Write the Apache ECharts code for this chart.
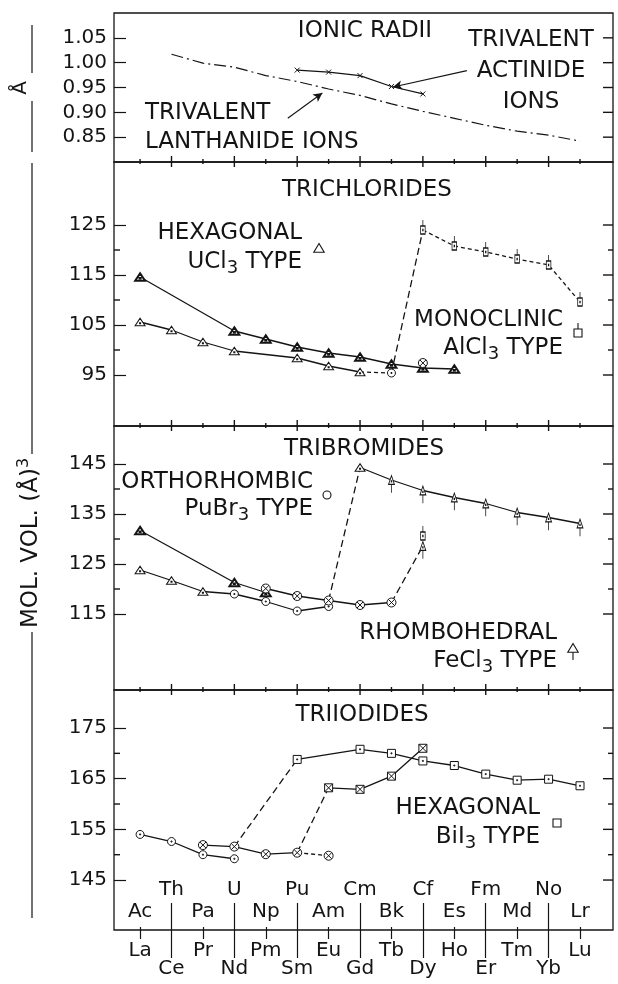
<!DOCTYPE html>
<html>
<head>
<meta charset="utf-8">
<title>Molar volumes of lanthanide and actinide trihalides</title>
<script src="https://cdn.jsdelivr.net/npm/echarts@6.0.0/dist/echarts.min.js"></script>
<style>
  html, body { margin: 0; padding: 0; background: #fff; }
  #chart { width: 618px; height: 984px; }
</style>
</head>
<body>
<div id="chart"></div>
<script>
const _ = null;

// Element rows: index 0..14 is the position along the 4f / 5f series
const lanthanides = ['La', 'Ce', 'Pr', 'Nd', 'Pm', 'Sm', 'Eu', 'Gd', 'Tb', 'Dy', 'Ho', 'Er', 'Tm', 'Yb', 'Lu'];
const actinides   = ['Ac', 'Th', 'Pa', 'U', 'Np', 'Pu', 'Am', 'Cm', 'Bk', 'Cf', 'Es', 'Fm', 'Md', 'No', 'Lr'];

// Ionic radii of the trivalent ions (Å)
const radiusLn = [_, 1.017, 0.999, 0.991, 0.974, 0.962, 0.947, 0.934, 0.917, 0.902, 0.888, 0.874, 0.862, 0.854, 0.842];
const radiusAn = [_, _, _, _, _, 0.985, 0.981, 0.974, 0.952, 0.937, _, _, _, _, _];

// Trichlorides, molar volume (Å^3)
const clHexLow  = [105.6, 104.0, 101.6, 99.8, _, 98.4, 96.8, 95.6, _, _, _, _, _, _, _];
const clHexHigh = [114.6, _, _, 103.8, 102.2, 100.6, 99.4, 98.6, 97.2, 96.4, 96.2, _, _, _, _];
const clOrtho   = [_, _, _, _, _, _, _, _, 95.4, _, _, _, _, _, _];
const clCrossed = [_, _, _, _, _, _, _, _, _, 97.4, _, _, _, _, _];
const clMono    = [_, _, _, _, _, _, _, _, _, 124.0, 120.8, 119.6, 118.2, 117.0, 109.6];

// Tribromides, molar volume (Å^3)
const brRhombLow   = [123.8, 121.7, 119.5, _, _, _, _, _, _, _, _, _, _, _, _];
const brOrtho      = [_, _, _, 119.0, 117.5, 115.6, 116.5, _, _, _, _, _, _, _, _];
const brRhombHigh  = [131.7, _, _, 121.3, 119.3, _, _, _, _, _, _, _, _, _, _];
const brCrossed    = [_, _, _, _, 120.1, 118.6, 117.7, 116.8, 117.3, _, _, _, _, _, _];
const brRhombHeavy = [_, _, _, _, _, _, _, 144.3, 141.8, 139.7, 138.3, 137.1, 135.3, 134.3, 133.1];
const brRhombDy    = [_, _, _, _, _, _, _, _, _, 128.6, _, _, _, _, _];
const brMonoDy     = [_, _, _, _, _, _, _, _, _, 130.6, _, _, _, _, _];

// Triiodides, molar volume (Å^3)
const iOrtho     = [154.0, 152.6, 150.0, 149.2, _, _, _, _, _, _, _, _, _, _, _];
const iCrossed   = [_, _, 151.9, 151.6, 150.1, 150.4, _, _, _, _, _, _, _, _, _];
const iCrossedEu = [_, _, _, _, _, _, 149.8, _, _, _, _, _, _, _, _];
const iHex       = [_, _, _, _, _, 168.8, _, 170.8, 170.0, 168.5, 167.6, 165.9, 164.7, 164.9, 163.6];
const iBoxed     = [_, _, _, _, _, _, 163.2, 162.9, 165.5, 171.0, _, _, _, _, _];

// Tick labels (major) and unlabeled minor ticks of each panel
const radiusTicks = [0.85, 0.90, 0.95, 1.00, 1.05];
const clTicks = [95, 105, 115, 125], clMinor = [100, 110, 120];
const brTicks = [115, 125, 135, 145], brMinor = [120, 130, 140];
const iTicks  = [145, 155, 165, 175], iMinor  = [150, 160, 170];

// Arrow annotations of the ionic-radii panel, in data units [position, Å]
const actinideArrow   = [[10.4, 0.984], [8.05, 0.951]];
const lanthanideArrow = [[4.7, 0.888], [5.8, 0.939]];

// ---------------------------------------------------------------------------
const INK = '#141414';
const FONT = 'DejaVu Sans';
const PLOT_LEFT = 114, PLOT_RIGHT = 613;
const X_MIN = -0.83, X_MAX = 15.05;
const evenIdx = [0, 2, 4, 6, 8, 10, 12, 14];
const oddIdx = [1, 3, 5, 7, 9, 11, 13];

const panels = [
  { top: 13,  height: 149, min: 0.80,   max: 1.10,  ticks: radiusTicks, minor: [],      fmt: v => v.toFixed(2) },
  { top: 162, height: 264, min: 84.8,   max: 137.6, ticks: clTicks,     minor: clMinor, fmt: v => String(Math.round(v)) },
  { top: 426, height: 264, min: 99.8,   max: 152.6, ticks: brTicks,     minor: brMinor, fmt: v => String(Math.round(v)) },
  { top: 690, height: 240, min: 135.14, max: 182.5, ticks: iTicks,      minor: iMinor,  fmt: v => String(Math.round(v)) }
];

// Marker shapes
const CIRCLE = 'M4,0C6.2,0 8,1.8 8,4C8,6.2 6.2,8 4,8C1.8,8 0,6.2 0,4C0,1.8 1.8,0 4,0Z';
const TRI      = 'path://M5,0L10,8.66L0,8.66Z M4.5,5.3h1v1h-1Z';
const TRI_STEM = 'path://M5,0L10,8.66L0,8.66Z M5,8.66V17 M4.5,5.3h1v1h-1Z';
const SQ       = 'path://M0,0H8V8H0Z M3.5,3.5h1v1h-1Z';
const SQ_STEM  = 'path://M0,6H8V14H0Z M4,0V6 M3.5,9.5h1v1h-1Z';
const SQX      = 'path://M0,0H8V8H0Z M0,0L8,8M8,0L0,8';
const CIRC     = 'path://' + CIRCLE + ' M3.5,3.5h1v1h-1Z';
const CIRCX    = 'path://' + CIRCLE + ' M1.2,1.2L6.8,6.8M6.8,1.2L1.2,6.8';
const XMARK    = 'path://M0,0L6,6M6,0L0,6';

const MARK = {
  tri:     { symbol: TRI,      size: [10, 8.66], offset: [0, 0] },
  triStem: { symbol: TRI_STEM, size: [10, 17],   offset: [0, 4.17] },
  sq:      { symbol: SQ,       size: [8, 8],     offset: [0, 0] },
  sqStem:  { symbol: SQ_STEM,  size: [8, 14],    offset: [0, -3] },
  sqx:     { symbol: SQX,      size: [8, 8],     offset: [0, 0] },
  circ:    { symbol: CIRC,     size: [8, 8],     offset: [0, 0] },
  circx:   { symbol: CIRCX,    size: [9, 9],     offset: [0, 0] },
  x:       { symbol: XMARK,    size: [5, 5],     offset: [0, 0] }
};

function toPoints(values) {
  const pts = [];
  values.forEach((v, i) => { if (v != null) pts.push([i, v]); });
  return pts;
}

function lineSeries(grid, values, o) {
  o = o || {};
  const m = o.mark ? MARK[o.mark] : null;
  return {
    type: 'line',
    xAxisIndex: grid, yAxisIndex: grid,
    data: toPoints(values),
    symbol: m ? m.symbol : 'none',
    symbolSize: m ? m.size : 0,
    symbolOffset: m ? m.offset : [0, 0],
    symbolKeepAspect: true,
    showSymbol: !!m, showAllSymbol: true,
    lineStyle: { color: INK, width: o.width || 1.3, type: o.dash || 'solid' },
    itemStyle: { color: '#fff', borderColor: INK, borderWidth: o.border || 1 },
    z: o.z || 3,
    silent: true, animation: false,
    emphasis: { disabled: true }
  };
}

// Connector between the last point of one run and the first point of another
function bridge(grid, a, i, b, j, dash) {
  return {
    type: 'line', xAxisIndex: grid, yAxisIndex: grid,
    data: [[i, a[i]], [j, b[j]]],
    symbol: 'none', showSymbol: false,
    lineStyle: { color: INK, width: 1.3, type: dash || 'solid' },
    z: 2, silent: true, animation: false, emphasis: { disabled: true }
  };
}

const LONG_DASH = [7, 4];
const SHORT_DASH = [4, 3];

const series = [];

// Ionic radii
const lnRadius = lineSeries(0, radiusLn, { dash: [12, 4, 2, 4], width: 1.2 });
lnRadius.markLine = {
  silent: true, animation: false, symbol: ['none', 'arrow'], symbolSize: [7, 9],
  label: { show: false },
  lineStyle: { color: INK, width: 1.1, type: 'solid', curveness: -0.2 },
  data: [[{ coord: lanthanideArrow[0] }, { coord: lanthanideArrow[1] }]]
};
const anRadius = lineSeries(0, radiusAn, { mark: 'x', width: 1.2 });
anRadius.markLine = {
  silent: true, animation: false, symbol: ['none', 'arrow'], symbolSize: [7, 9],
  label: { show: false },
  lineStyle: { color: INK, width: 1.1, type: 'solid', curveness: -0.15 },
  data: [[{ coord: actinideArrow[0] }, { coord: actinideArrow[1] }]]
};
series.push(lnRadius, anRadius);

// Trichlorides
series.push(
  lineSeries(1, clHexLow, { mark: 'tri' }),
  lineSeries(1, clHexHigh, { mark: 'tri', border: 1.9 }),
  bridge(1, clHexLow, 7, clOrtho, 8, SHORT_DASH),
  bridge(1, clOrtho, 8, clMono, 9, LONG_DASH),
  lineSeries(1, clOrtho, { mark: 'circ' }),
  lineSeries(1, clCrossed, { mark: 'circx', z: 4 }),
  lineSeries(1, clMono, { mark: 'sqStem', dash: SHORT_DASH })
);

// Tribromides
const heavy = lineSeries(2, brRhombHeavy, { mark: 'triStem' });
heavy.data[0] = { value: heavy.data[0], symbol: TRI, symbolSize: [10, 8.66], symbolOffset: [0, 0] };
series.push(
  lineSeries(2, brRhombLow, { mark: 'tri' }),
  bridge(2, brRhombLow, 2, brOrtho, 3),
  lineSeries(2, brOrtho, { mark: 'circ' }),
  lineSeries(2, brRhombHigh, { mark: 'tri', border: 1.9 }),
  lineSeries(2, brCrossed, { mark: 'circx', z: 4 }),
  bridge(2, brCrossed, 6, brRhombHeavy, 7, LONG_DASH),
  bridge(2, brCrossed, 8, brRhombDy, 9, LONG_DASH),
  heavy,
  lineSeries(2, brRhombDy, { mark: 'triStem' }),
  lineSeries(2, brMonoDy, { mark: 'sqStem' })
);

// Triiodides
series.push(
  lineSeries(3, iOrtho, { mark: 'circ' }),
  lineSeries(3, iCrossed, { mark: 'circx', z: 4 }),
  bridge(3, iCrossed, 3, iHex, 5, LONG_DASH),
  bridge(3, iCrossed, 5, iBoxed, 6, LONG_DASH),
  bridge(3, iCrossed, 5, iCrossedEu, 6, SHORT_DASH),
  lineSeries(3, iCrossedEu, { mark: 'circx' }),
  lineSeries(3, iHex, { mark: 'sq' }),
  lineSeries(3, iBoxed, { mark: 'sqx', z: 4 })
);

// ---------------------------------------------------------------------------
// Grids and axes
const grids = panels.map(p => ({
  left: PLOT_LEFT, width: PLOT_RIGHT - PLOT_LEFT, top: p.top, height: p.height,
  outerBoundsMode: 'none', containLabel: false,
  show: true, borderColor: INK, borderWidth: 1.3, backgroundColor: 'rgba(0,0,0,0)'
}));

const TICK_LINE = { color: INK, width: 1.2 };
const LABEL_FONT = { fontFamily: FONT, fontSize: 20, color: INK };

function baseX(g, position) {
  return {
    type: 'value', gridIndex: g, position: position, min: X_MIN, max: X_MAX,
    axisLine: { show: false, onZero: false }, splitLine: { show: false },
    axisTick: { show: false }, axisLabel: { show: false }
  };
}
// Element-name axis: its labels and the tick marks that separate them
function nameAxis(values, length, inside, labels, margin) {
  const ax = baseX(3, 'bottom');
  ax.axisTick = { show: true, customValues: values, length: length, inside: inside, lineStyle: TICK_LINE };
  ax.axisLabel = Object.assign({
    show: true, customValues: values, inside: inside, margin: margin,
    formatter: v => labels[Math.round(v)]
  }, LABEL_FONT);
  return ax;
}

const xAxes = panels.map((p, g) => baseX(g, 'bottom'));
// Lanthanides below the frame, actinides above it
xAxes.push(nameAxis(evenIdx, 9, false, lanthanides, 11));
xAxes.push(nameAxis(oddIdx, 28, false, lanthanides, 29));
xAxes.push(nameAxis(evenIdx, 3, true, actinides, 8));
xAxes.push(nameAxis(oddIdx, 27, true, actinides, 30));

const yAxes = panels.map((p, g) => ({
  type: 'value', gridIndex: g, position: 'left', min: p.min, max: p.max,
  axisLine: { show: false, onZero: false }, splitLine: { show: false },
  axisTick: { show: true, inside: true, length: 12, customValues: p.ticks, lineStyle: TICK_LINE },
  axisLabel: Object.assign({ show: true, customValues: p.ticks, margin: 7, formatter: p.fmt }, LABEL_FONT)
}));

// ---------------------------------------------------------------------------
// Text: panel titles, annotations, structure-type keys, axis titles
const RICH = {
  n: { fontFamily: FONT, fontSize: 23, lineHeight: 30, fill: INK },
  s: { fontFamily: FONT, fontSize: 18, lineHeight: 18, verticalAlign: 'bottom', fill: INK },
  p: { fontFamily: FONT, fontSize: 16, lineHeight: 16, verticalAlign: 'top', fill: INK }
};
function text(x, y, str, align, size) {
  return {
    type: 'text', x: x, y: y, z: 10, silent: true,
    style: { text: str, fontFamily: FONT, fontSize: size || 23, fill: INK,
             align: align || 'center', verticalAlign: 'middle', rich: RICH }
  };
}
const STROKE = { fill: '#fff', stroke: INK, lineWidth: 1.1 };
function key(kind, cx, cy) {
  const els = [];
  if (kind === 'tri' || kind === 'triStem') {
    els.push({ type: 'polygon', z: 10, silent: true,
      shape: { points: [[cx, cy - 4.5], [cx + 5.2, cy + 4.3], [cx - 5.2, cy + 4.3]] }, style: STROKE });
    if (kind === 'triStem') els.push({ type: 'line', z: 10, silent: true,
      shape: { x1: cx, y1: cy + 4.3, x2: cx, y2: cy + 12 }, style: STROKE });
  } else if (kind === 'sq' || kind === 'sqStem') {
    els.push({ type: 'rect', z: 10, silent: true,
      shape: { x: cx - 4, y: cy - 4, width: 8, height: 8 }, style: STROKE });
    if (kind === 'sqStem') els.push({ type: 'line', z: 10, silent: true,
      shape: { x1: cx, y1: cy - 4, x2: cx, y2: cy - 10 }, style: STROKE });
  } else {
    els.push({ type: 'circle', z: 10, silent: true, shape: { cx: cx, cy: cy, r: 4 }, style: STROKE });
  }
  return els;
}

const structureKeys = [
  { lines: ['HEXAGONAL', '{n|UCl}{s|3}{n| TYPE}'],    right: 302, y: [233, 262], kind: 'tri',     kx: 319, ky: 248 },
  { lines: ['MONOCLINIC', '{n|AlCl}{s|3}{n| TYPE}'],  right: 563, y: [320, 348], kind: 'sqStem',  kx: 578, ky: 333 },
  { lines: ['ORTHORHOMBIC', '{n|PuBr}{s|3}{n| TYPE}'], right: 313, y: [482, 509], kind: 'circ',   kx: 327, ky: 495 },
  { lines: ['RHOMBOHEDRAL', '{n|FeCl}{s|3}{n| TYPE}'], right: 557, y: [633, 661], kind: 'triStem', kx: 573, ky: 648 },
  { lines: ['HEXAGONAL', '{n|BiI}{s|3}{n| TYPE}'],    right: 540, y: [808, 837], kind: 'sq',      kx: 557, ky: 823 }
];

const graphics = [
  text(365, 31, 'IONIC RADII'),
  text(367, 190, 'TRICHLORIDES'),
  text(364, 449, 'TRIBROMIDES'),
  text(362, 715, 'TRIIODIDES'),
  text(531, 40, 'TRIVALENT'),
  text(531, 71, 'ACTINIDE'),
  text(531, 102, 'IONS'),
  text(145, 113, 'TRIVALENT', 'left'),
  text(145, 142, 'LANTHANIDE IONS', 'left')
];
structureKeys.forEach(k => {
  graphics.push(text(k.right, k.y[0], k.lines[0], 'right'));
  graphics.push(text(k.right, k.y[1], k.lines[1], 'right'));
  key(k.kind, k.kx, k.ky).forEach(e => graphics.push(e));
});

function rule(x1, y1, x2, y2) {
  return { type: 'line', silent: true, z: 10, shape: { x1: x1, y1: y1, x2: x2, y2: y2 },
           style: { stroke: INK, lineWidth: 1.2 } };
}
// Short frame tick as a filled bar (w x h, centred on x for vertical, on y for horizontal)
function bar(x, y, w, h) {
  return { type: 'rect', silent: true, z: 20, shape: { x: x, y: y, width: w, height: h },
           style: { fill: INK, stroke: null, lineWidth: 0 } };
}

// Rotated axis titles with their rule lines
const ctx = document.createElement('canvas').getContext('2d');
ctx.font = '23px "' + FONT + '"';
let titleLen = ctx.measureText('MOL. VOL. (Å)').width;
ctx.font = '16px "' + FONT + '"';
titleLen += ctx.measureText('3').width;
const volCenter = 543, ruleX = 32;
const volTitle = text(31, volCenter, '{n|MOL. VOL. (Å)}{p|3}', 'center');
volTitle.rotation = Math.PI / 2;
const angTitle = text(21, 88, 'Å', 'center', 20);
angTitle.rotation = Math.PI / 2;
graphics.push(volTitle, angTitle);
[[25, 73], [101, 152], [163, volCenter - titleLen / 2 - 4], [volCenter + titleLen / 2 + 4, 918]].forEach(r => {
  graphics.push(rule(ruleX, r[0], ruleX, r[1]));
});

// Frame tick marks: element ticks across each panel divider, right-edge ticks and left minor ticks.
// Positions follow the same linear ranges that the panel axes use.
const TW = 1.4;
const xPixel = i => PLOT_LEFT + (i - X_MIN) / (X_MAX - X_MIN) * (PLOT_RIGHT - PLOT_LEFT);
const yPixel = (g, v) => {
  const p = panels[g];
  return p.top + p.height - (v - p.min) / (p.max - p.min) * p.height;
};
panels.forEach((p, g) => {
  const divider = p.top + p.height;
  if (g < panels.length - 1) {
    lanthanides.forEach((name, i) => {
      const x = xPixel(i), longTick = i % 2 === 1;
      const up = longTick ? 6 : 3, down = longTick ? 5 : 2;
      graphics.push(bar(x - TW / 2, divider - up, TW, up + down));
    });
  }
  p.ticks.forEach(v => {
    graphics.push(bar(PLOT_RIGHT - 10, yPixel(g, v) - TW / 2, 10, TW));
  });
  p.minor.forEach(v => {
    const y = yPixel(g, v);
    graphics.push(bar(PLOT_LEFT, y - TW / 2, 6, TW));
    graphics.push(bar(PLOT_RIGHT - 5, y - TW / 2, 5, TW));
  });
});

const chart = echarts.init(document.getElementById('chart'), null, { renderer: 'canvas' });
chart.setOption({
  animation: false,
  backgroundColor: '#fff',
  grid: grids,
  xAxis: xAxes,
  yAxis: yAxes,
  series: series,
  graphic: { elements: graphics }
});
</script>
</body>
</html>
